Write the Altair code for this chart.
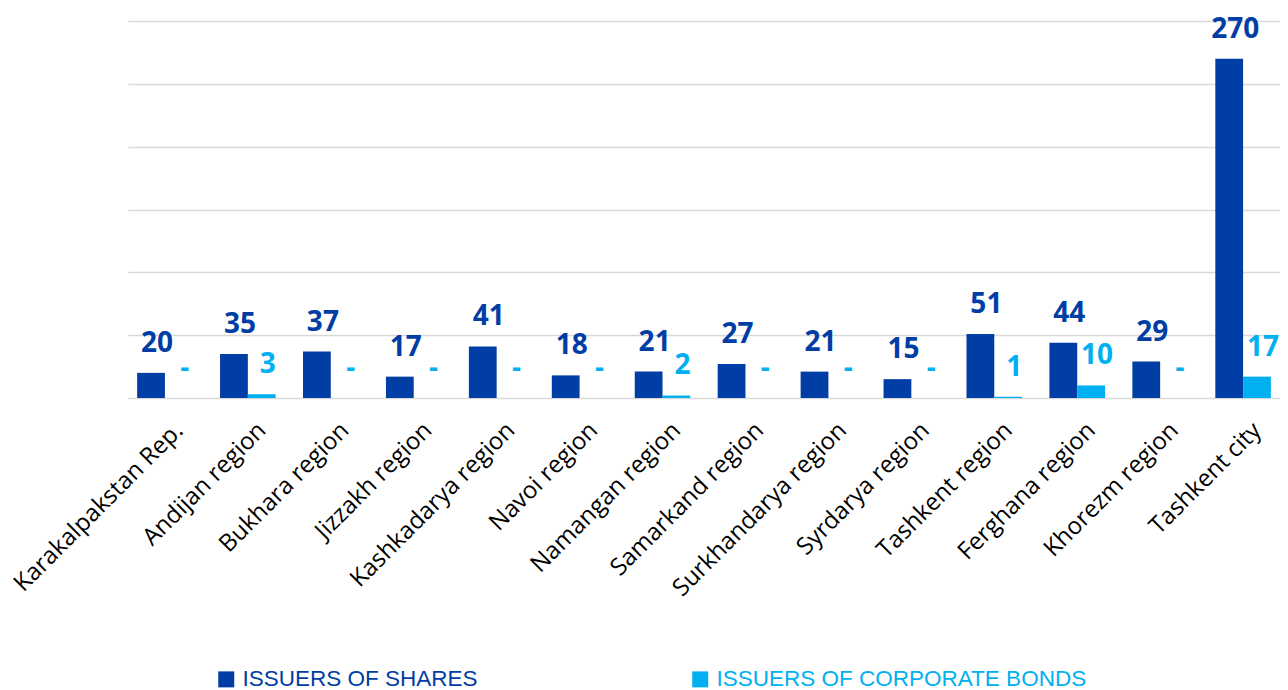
import altair as alt
import pandas as pd

regions = ["Karakalpakstan Rep.", "Andijan region", "Bukhara region", "Jizzakh region",
           "Kashkadarya region", "Navoi region", "Namangan region", "Samarkand region",
           "Surkhandarya region", "Syrdarya region", "Tashkent region", "Ferghana region",
           "Khorezm region", "Tashkent city"]
shares = [20, 35, 37, 17, 41, 18, 21, 27, 21, 15, 51, 44, 29, 270]
bonds = [0, 3, 0, 0, 0, 0, 2, 0, 0, 0, 1, 10, 0, 17]
series_names = ["ISSUERS OF SHARES", "ISSUERS OF CORPORATE BONDS"]
series_colors = ["#003DA5", "#00B0F0"]
grid_values = [0, 50, 100, 150, 200, 250, 300]

rows = []
for r, s, b in zip(regions, shares, bonds):
    rows.append({"region": r, "series": series_names[0], "value": s, "label": str(s) if s else "-"})
    rows.append({"region": r, "series": series_names[1], "value": b, "label": str(b) if b else "-"})
df = pd.DataFrame(rows)

x_enc = alt.X("region:N", sort=regions,
              scale=alt.Scale(paddingInner=0.33, paddingOuter=0.11, align=0.5),
              axis=alt.Axis(title=None, labelAngle=-45, labelAlign="right", labelBaseline="top",
                            labelPadding=20, labelOffset=6, labelFontSize=24, labelFont="Open Sans",
                            labelColor="#000000", labelLimit=400, domain=False, ticks=False,
                            grid=False))
xo_enc = alt.XOffset("series:N", sort=series_names, scale=alt.Scale(paddingInner=0, paddingOuter=0))
color_scale = alt.Scale(domain=series_names, range=series_colors)

bars = alt.Chart(df).mark_bar().encode(
    x=x_enc,
    xOffset=xo_enc,
    y=alt.Y("value:Q", scale=alt.Scale(domain=[0, 300], nice=False),
            axis=alt.Axis(values=grid_values, labels=False, ticks=False, domain=False, title=None,
                          gridColor="#d9d9d9", gridWidth=1.6)),
    color=alt.Color("series:N", sort=series_names, scale=color_scale,
                    legend=alt.Legend(title=None, orient="none", legendX=87, legendY=647,
                                      direction="horizontal", symbolType="square",
                                      symbolSize=256, symbolStrokeWidth=0, labelOffset=5,
                                      labelFont="Liberation Sans", labelFontSize=22.5,
                                      labelLimit=600, columnPadding=211,
                                      labelColor=alt.ExprRef(expr="datum.label == 'ISSUERS OF SHARES' ? '#003DA5' : '#00B0F0'"))),
)

text = alt.Chart(df).mark_text(dx=6, dy=-29, baseline="middle", align="center",
                               fontSize=28, fontWeight="bold", font="Open Sans").encode(
    x=x_enc,
    xOffset=xo_enc,
    y=alt.Y("value:Q"),
    text="label:N",
    color=alt.Color("series:N", sort=series_names, scale=color_scale),
)

chart = alt.layer(bars, text).properties(
    width=1152, height=377,
    background="white",
    autosize=alt.AutoSizeParams(type="none"),
    padding={"left": 120, "top": 13, "right": 0, "bottom": 292},
).configure_view(strokeWidth=0)

chart.save("out.html", embed_options={"renderer": "svg", "actions": False})
